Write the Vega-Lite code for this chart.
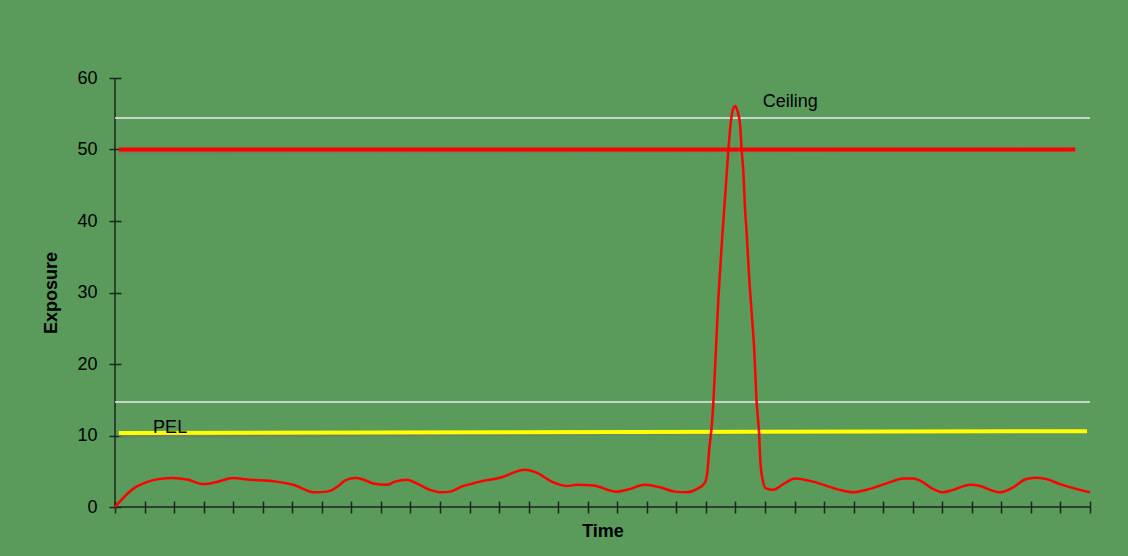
{
  "$schema": "https://vega.github.io/schema/vega-lite/v6.json",
  "width": 975,
  "height": 429,
  "autosize": "none",
  "padding": {"left": 115, "top": 78, "right": 38, "bottom": 49},
  "background": "#5a9b5c",
  "config": {
    "view": {"stroke": null},
    "font": "Liberation Sans",
    "axis": {"grid": false}
  },
  "datasets": {
    "exposure": [
      {"t": 0, "v": 0}, {"t": 0.68, "v": 2.75}, {"t": 0.96, "v": 3.3}, {"t": 1.47, "v": 3.9},
      {"t": 1.97, "v": 4.05}, {"t": 2.48, "v": 3.8}, {"t": 2.99, "v": 3.2}, {"t": 3.44, "v": 3.5},
      {"t": 4.0, "v": 4.05}, {"t": 4.46, "v": 3.85}, {"t": 5.47, "v": 3.55}, {"t": 6.03, "v": 3.1},
      {"t": 6.77, "v": 2.05}, {"t": 7.17, "v": 2.15}, {"t": 7.56, "v": 2.95}, {"t": 7.78, "v": 3.7},
      {"t": 8.12, "v": 4.05}, {"t": 8.4, "v": 3.85}, {"t": 8.74, "v": 3.3}, {"t": 9.2, "v": 3.1},
      {"t": 9.48, "v": 3.55}, {"t": 9.87, "v": 3.8}, {"t": 10.21, "v": 3.3}, {"t": 10.66, "v": 2.4},
      {"t": 11.06, "v": 2.05}, {"t": 11.34, "v": 2.15}, {"t": 11.79, "v": 2.95}, {"t": 12.02, "v": 3.2},
      {"t": 12.35, "v": 3.55}, {"t": 13.03, "v": 4.1}, {"t": 13.88, "v": 5.2}, {"t": 14.27, "v": 4.8},
      {"t": 14.78, "v": 3.55}, {"t": 15.29, "v": 2.95}, {"t": 15.63, "v": 3.1}, {"t": 16.19, "v": 3.0},
      {"t": 16.98, "v": 2.15}, {"t": 17.32, "v": 2.4}, {"t": 17.94, "v": 3.1}, {"t": 18.45, "v": 2.75},
      {"t": 18.95, "v": 2.15}, {"t": 19.35, "v": 2.05}, {"t": 19.69, "v": 2.5}, {"t": 19.97, "v": 3.4},
      {"t": 20.05, "v": 5.0}, {"t": 20.12, "v": 8.4}, {"t": 20.19, "v": 11.0}, {"t": 20.25, "v": 14.5},
      {"t": 20.31, "v": 19.5}, {"t": 20.37, "v": 24.8}, {"t": 20.42, "v": 29.0}, {"t": 20.48, "v": 33.0},
      {"t": 20.54, "v": 37.0}, {"t": 20.65, "v": 43.4}, {"t": 20.76, "v": 49.9}, {"t": 20.84, "v": 53.7},
      {"t": 20.93, "v": 55.8}, {"t": 21.0, "v": 56.1}, {"t": 21.06, "v": 55.5}, {"t": 21.15, "v": 53.7},
      {"t": 21.21, "v": 49.9}, {"t": 21.27, "v": 46.7}, {"t": 21.32, "v": 42.0}, {"t": 21.38, "v": 38.3},
      {"t": 21.47, "v": 31.7}, {"t": 21.55, "v": 27.1}, {"t": 21.63, "v": 22.4}, {"t": 21.72, "v": 14.5},
      {"t": 21.8, "v": 10.3}, {"t": 21.84, "v": 6.6}, {"t": 21.92, "v": 3.8}, {"t": 22.03, "v": 2.6},
      {"t": 22.28, "v": 2.4}, {"t": 22.62, "v": 3.2}, {"t": 23.02, "v": 4.0}, {"t": 23.63, "v": 3.55},
      {"t": 24.43, "v": 2.5}, {"t": 24.99, "v": 2.05}, {"t": 25.44, "v": 2.4}, {"t": 26.12, "v": 3.3},
      {"t": 26.68, "v": 4.0}, {"t": 27.02, "v": 4.0}, {"t": 27.25, "v": 3.7}, {"t": 27.7, "v": 2.5},
      {"t": 28.03, "v": 2.05}, {"t": 28.37, "v": 2.4}, {"t": 28.94, "v": 3.1}, {"t": 29.28, "v": 2.95},
      {"t": 29.62, "v": 2.4}, {"t": 29.95, "v": 2.05}, {"t": 30.4, "v": 2.75}, {"t": 30.8, "v": 3.85},
      {"t": 31.14, "v": 4.1}, {"t": 31.53, "v": 3.9}, {"t": 31.98, "v": 3.2}, {"t": 33, "v": 2.05}
    ],
    "guides": [
      {"name": "upper", "t": 0, "t2": 33, "v": 54.4, "v2": 54.4},
      {"name": "lower", "t": 0, "t2": 33, "v": 14.7, "v2": 14.7},
      {"name": "ceiling", "t": 0.13, "t2": 32.5, "v": 50, "v2": 50},
      {"name": "pel", "t": 0.13, "t2": 32.9, "v": 10.35, "v2": 10.6}
    ],
    "notes": [
      {"label": "Ceiling", "t": 21.92, "v": 56.0},
      {"label": "PEL", "t": 1.29, "v": 10.39}
    ],
    "axes": [
      {"name": "y", "t": 0, "t2": 0, "v": 0, "v2": 60},
      {"name": "x", "t": 0, "t2": 33, "v": 0, "v2": 0}
    ]
  },
  "encoding": {
    "x": {
      "field": "t", "type": "quantitative",
      "scale": {"domain": [0, 33], "nice": false, "zero": false},
      "axis": {
        "title": "Time",
        "titleFont": "Liberation Sans",
        "titleFontSize": 18,
        "titleFontWeight": "bold",
        "titleColor": "#000000",
        "titlePadding": 9,
        "domain": false,
        "labels": false,
        "values": [0,1,2,3,4,5,6,7,8,9,10,11,12,13,14,15,16,17,18,19,20,21,22,23,24,25,26,27,28,29,30,31,32,33],
        "tickCount": 40,
        "tickSize": 12,
        "tickColor": "#1c261c",
        "tickWidth": 1.5,
        "offset": -6
      }
    },
    "y": {
      "field": "v", "type": "quantitative",
      "scale": {"domain": [0, 60], "nice": false},
      "axis": {
        "title": "Exposure",
        "titleFont": "Liberation Sans",
        "titleFontSize": 18,
        "titleFontWeight": "bold",
        "titleColor": "#000000",
        "titlePadding": 16,
        "domain": false,
        "values": [0, 10, 20, 30, 40, 50, 60],
        "tickSize": 12,
        "tickColor": "#1c261c",
        "tickWidth": 1.5,
        "offset": -6,
        "labelPadding": 12,
        "labelFont": "Liberation Sans",
        "labelFontSize": 18,
        "labelColor": "#000000"
      }
    }
  },
  "layer": [
    {
      "data": {"name": "axes"},
      "mark": {"type": "rule", "color": "#1c261c", "strokeWidth": 1.5},
      "encoding": {
        "x2": {"field": "t2"},
        "y2": {"field": "v2"}
      }
    },
    {
      "data": {"name": "guides"},
      "transform": [{"filter": "datum.name === 'upper' || datum.name === 'lower'"}],
      "mark": {"type": "rule", "color": "#e8ece6", "strokeWidth": 1.5},
      "encoding": {
        "x2": {"field": "t2"},
        "y2": {"field": "v2"}
      }
    },
    {
      "data": {"name": "guides"},
      "transform": [{"filter": "datum.name === 'ceiling' || datum.name === 'pel'"}],
      "mark": {"type": "rule", "color": "#6f7d68", "strokeWidth": 4, "yOffset": 3, "opacity": 0.7},
      "encoding": {
        "x2": {"field": "t2"},
        "y2": {"field": "v2"}
      }
    },
    {
      "data": {"name": "guides"},
      "transform": [{"filter": "datum.name === 'ceiling'"}],
      "mark": {"type": "rule", "color": "#ff0000", "strokeWidth": 4},
      "encoding": {
        "x2": {"field": "t2"},
        "y2": {"field": "v2"}
      }
    },
    {
      "data": {"name": "guides"},
      "transform": [{"filter": "datum.name === 'pel'"}],
      "mark": {"type": "rule", "color": "#ffff00", "strokeWidth": 4},
      "encoding": {
        "x2": {"field": "t2"},
        "y2": {"field": "v2"}
      }
    },
    {
      "data": {"name": "exposure"},
      "mark": {"type": "line", "color": "#ff0000", "strokeWidth": 2.5, "interpolate": "monotone"}
    },
    {
      "data": {"name": "notes"},
      "mark": {"type": "text", "align": "left", "baseline": "alphabetic", "font": "Liberation Sans", "fontSize": 18, "color": "#000000"},
      "encoding": {
        "text": {"field": "label"}
      }
    }
  ]
}
